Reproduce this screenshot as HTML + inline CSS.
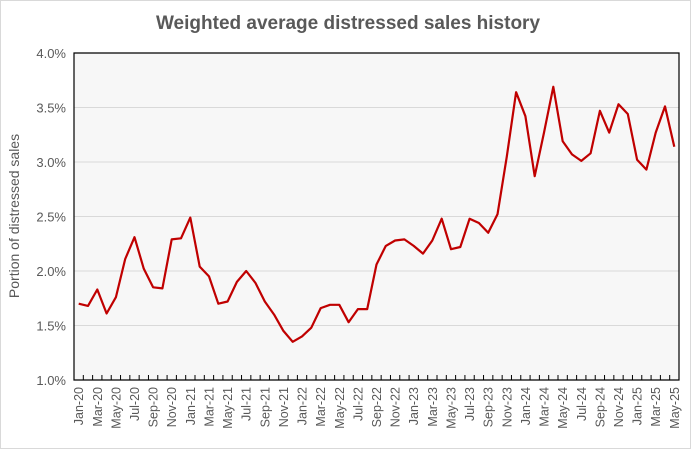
<!DOCTYPE html>
<html><head><meta charset="utf-8"><style>
body{margin:0;background:#fff;}
svg{display:block;font-family:"Liberation Sans",sans-serif;}
</style></head><body>
<svg id="chart" width="696" height="450">
<rect x="0.5" y="0.5" width="690" height="448" fill="#fff" stroke="#d9d9d9"/>
<text x="348" y="29" text-anchor="middle" font-size="19" font-weight="bold" fill="#595959">Weighted average distressed sales history</text>
<rect x="74" y="53" width="605" height="327" fill="#f7f7f7"/>
<g id="grid"></g><g id="yt"></g><g id="xt"></g>
<polyline id="line" fill="none" stroke="#c00000" stroke-width="2.2" stroke-linejoin="round"/>
<path d="M74 53V380H679V53Z" fill="none" stroke="#000" stroke-width="1.2"/>
<text transform="translate(19,216) rotate(-90)" text-anchor="middle" font-size="14" fill="#595959">Portion of distressed sales</text>
</svg>
<script>
const months=["Jan","Feb","Mar","Apr","May","Jun","Jul","Aug","Sep","Oct","Nov","Dec"];
const categories=[];
for(let y=20;y<=25;y++)for(let m=0;m<12;m++){if(y===25&&m>4)break;categories.push(months[m]+"-"+y);}
const values=[1.70,1.68,1.83,1.61,1.76,2.11,2.31,2.02,1.85,1.84,2.29,2.30,
2.49,2.04,1.95,1.70,1.72,1.90,2.00,1.89,1.72,1.60,1.45,1.35,
1.40,1.48,1.66,1.69,1.69,1.53,1.65,1.65,2.06,2.23,2.28,2.29,
2.23,2.16,2.28,2.48,2.20,2.22,2.48,2.44,2.35,2.52,3.05,3.64,
3.42,2.87,3.27,3.69,3.19,3.07,3.01,3.08,3.47,3.27,3.53,3.44,
3.02,2.93,3.27,3.51,3.14];
const yTicks=[1.0,1.5,2.0,2.5,3.0,3.5,4.0];
const L=74,R=679,T=53,B=380,yMin=1,yMax=4;
const ns="http://www.w3.org/2000/svg";
const step=(R-L)/categories.length;
const xs=i=>L+step*(i+0.5);
const ys=v=>B-(v-yMin)/(yMax-yMin)*(B-T);
function mk(t,a,p){const e=document.createElementNS(ns,t);for(const k in a)e.setAttribute(k,a[k]);p.appendChild(e);return e;}
const grid=document.getElementById('grid'),yt=document.getElementById('yt'),xt=document.getElementById('xt');
yTicks.forEach(v=>{
 if(v>yMin&&v<yMax){const g=mk('line',{x1:L,x2:R,y1:ys(v),y2:ys(v),stroke:'#d9d9d9'},grid);
 
 }
 const t=mk('text',{x:L-8,y:ys(v)+5,'text-anchor':'end','font-size':'13',fill:'#595959'},yt);
 t.textContent=v.toFixed(1)+'%';
 
 
});
for(let i=0;i<=categories.length;i++){
 const x=L+step*i;
 const tk=mk('line',{x1:x,x2:x,y1:B,y2:B-5,stroke:'#000'},xt);
 
 
}
categories.forEach((c,i)=>{
 if(i%2)return;
 const x=xs(i);
 const t=mk('text',{transform:`translate(${x+4.5},387) rotate(-90)`,'text-anchor':'end','font-size':'12.5',fill:'#595959'},xt);
 t.textContent=c;
 
 
});
document.getElementById('line').setAttribute('points',values.map((v,i)=>xs(i).toFixed(1)+','+ys(v).toFixed(1)).join(' '));
</script>
</body></html>
